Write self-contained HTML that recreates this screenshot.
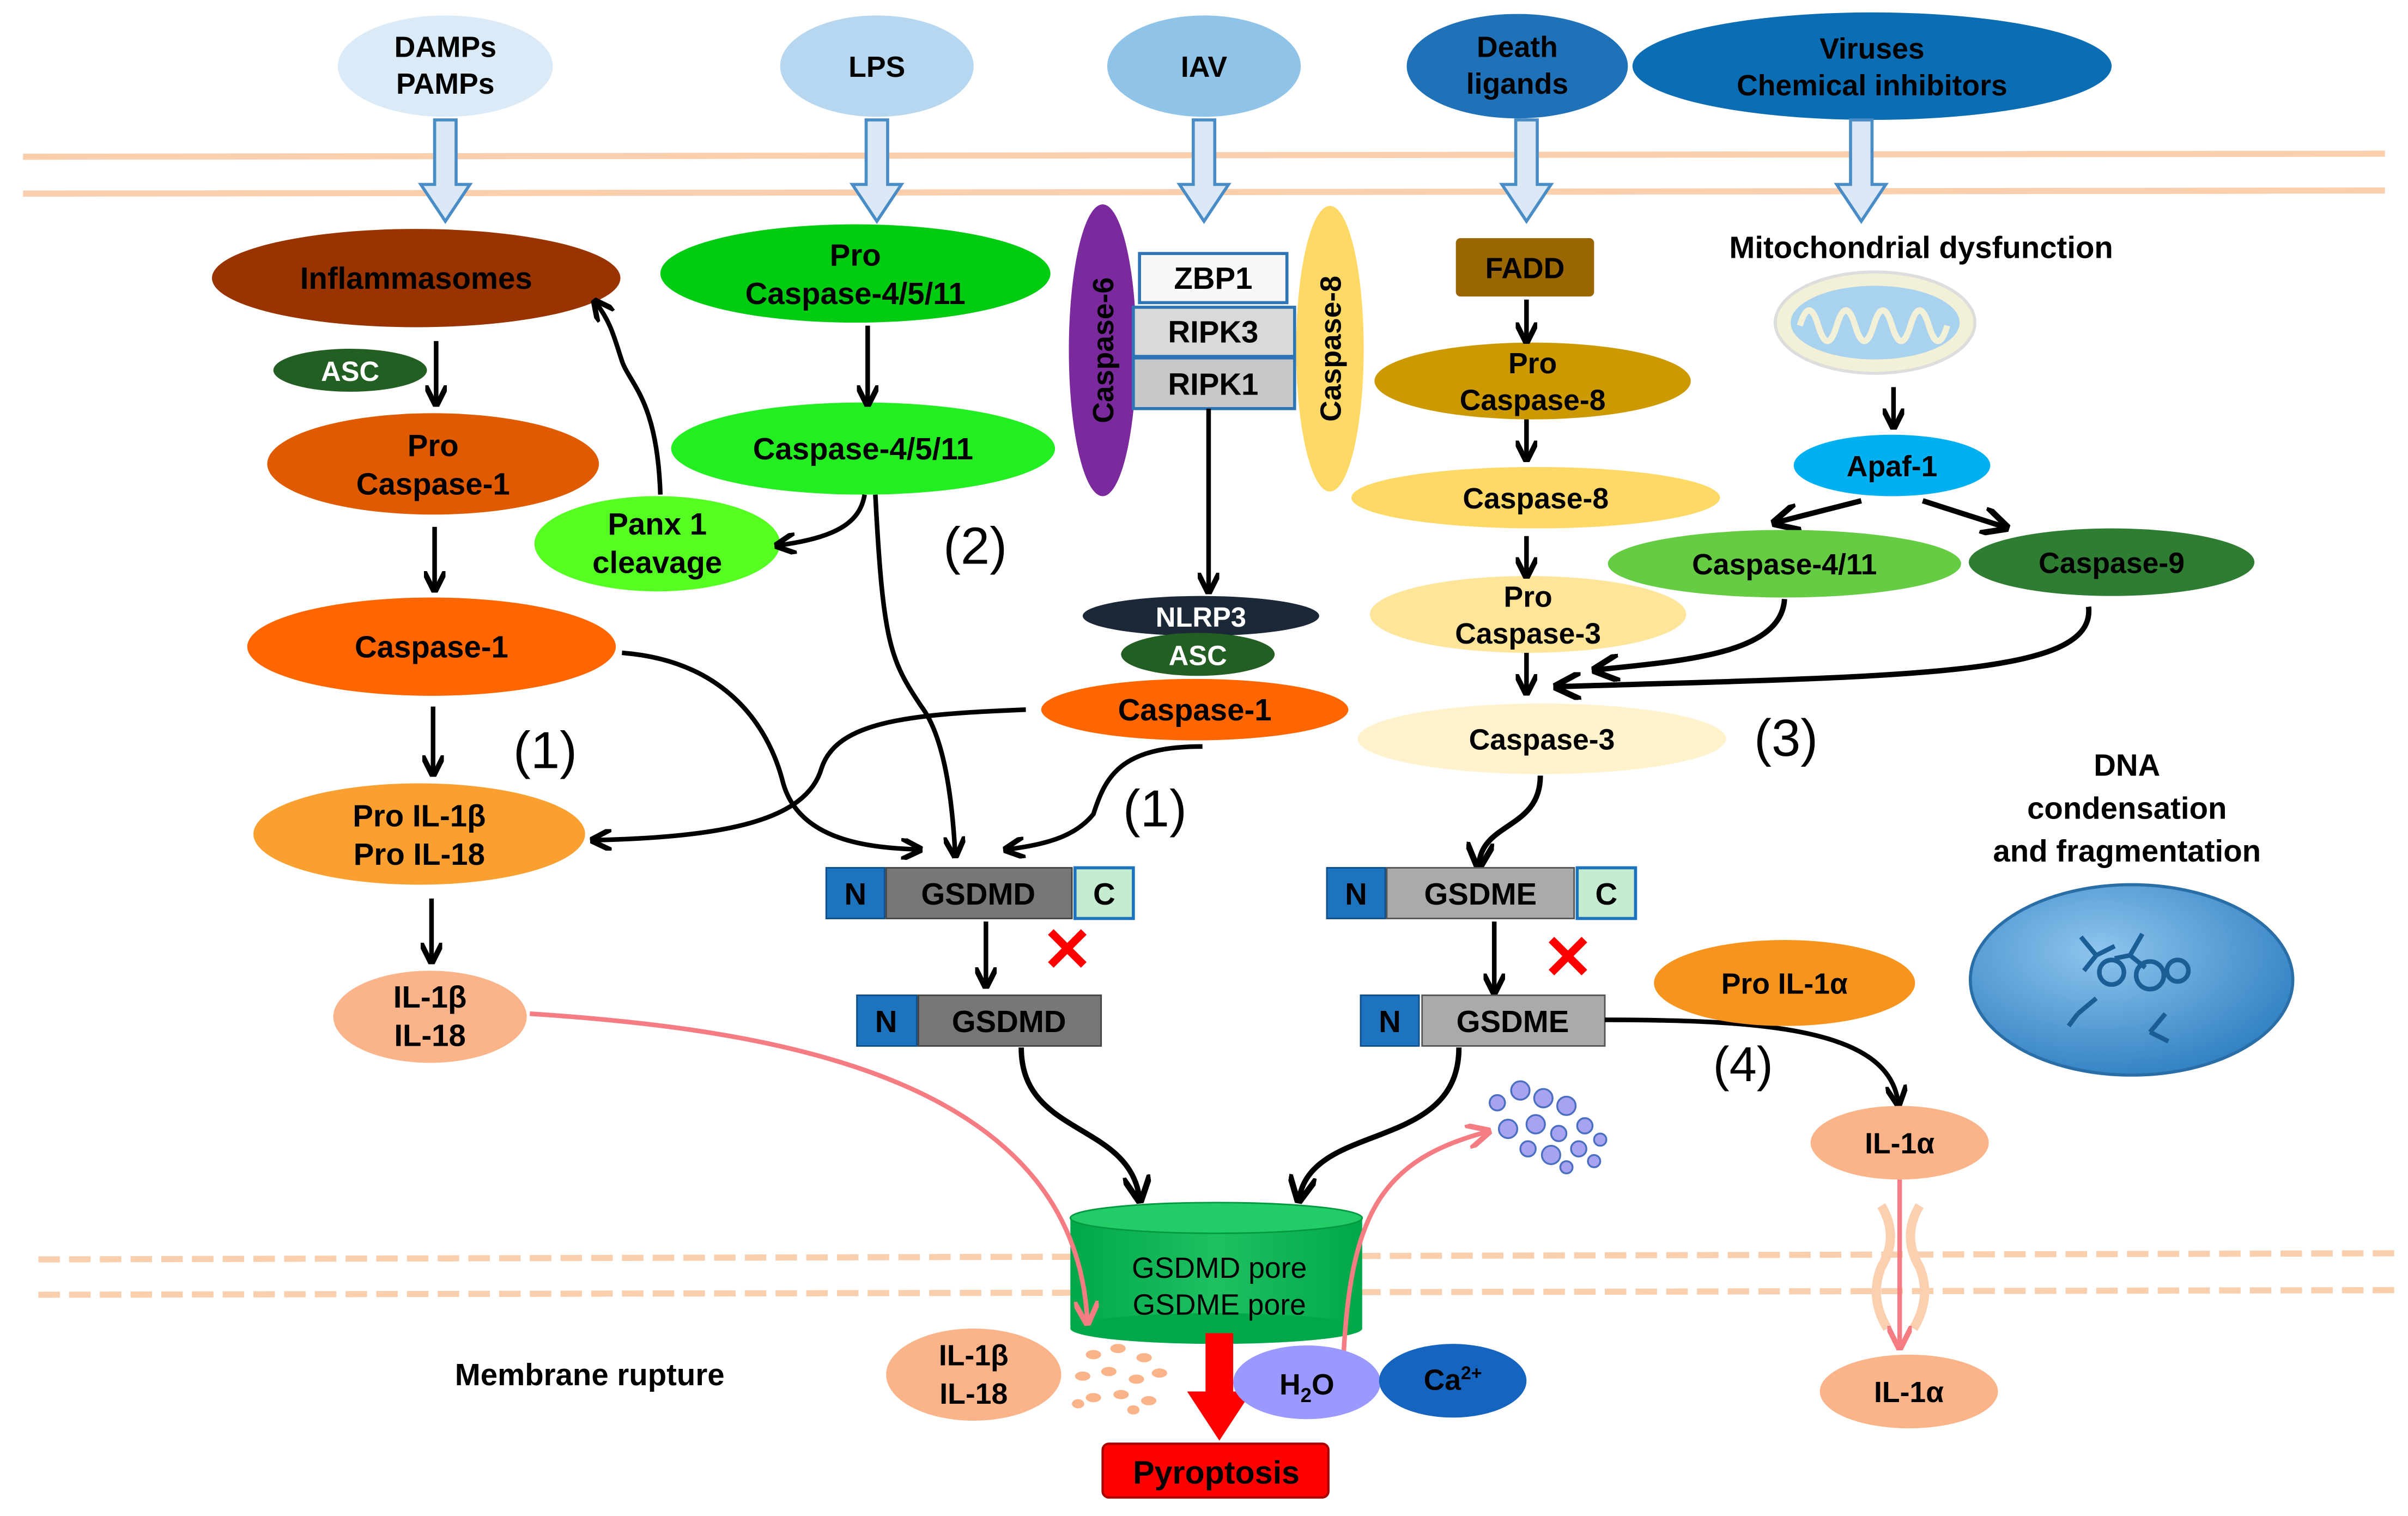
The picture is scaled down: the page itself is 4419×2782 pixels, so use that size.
<!DOCTYPE html>
<html><head><meta charset="utf-8">
<style>
html,body{margin:0;padding:0;background:#fff;}
svg{display:block;}
text{font-family:"Liberation Sans Narrow","Liberation Sans",sans-serif;font-weight:bold;fill:#000;text-anchor:middle;}
.w{font-family:"Liberation Sans",sans-serif;}
.n{font-family:"Liberation Sans",sans-serif;font-weight:normal;}
</style></head>
<body>
<svg width="4419" height="2782" viewBox="0 0 1568 987" xmlns="http://www.w3.org/2000/svg">
<defs>
<marker id="ah" markerWidth="8" markerHeight="8" refX="5" refY="4" orient="auto" markerUnits="userSpaceOnUse" viewBox="0 0 8 8">
</marker>
<marker id="a" viewBox="0 0 10 10" refX="8" refY="5" markerWidth="14" markerHeight="14" markerUnits="userSpaceOnUse" orient="auto"><path d="M0,0 L10,5 L0,10" fill="none" stroke="#000" stroke-width="2.5"/></marker>
<marker id="ab" viewBox="0 0 10 10" refX="8" refY="5" markerWidth="18" markerHeight="18" markerUnits="userSpaceOnUse" orient="auto"><path d="M0,0 L10,5 L0,10" fill="none" stroke="#000" stroke-width="2.2"/></marker>
<marker id="ap" viewBox="0 0 10 10" refX="8" refY="5" markerWidth="16" markerHeight="16" markerUnits="userSpaceOnUse" orient="auto"><path d="M0,0 L10,5 L0,10" fill="none" stroke="#f47c82" stroke-width="2.2"/></marker>
<radialGradient id="nuc" cx="0.4" cy="0.35" r="0.7"><stop offset="0" stop-color="#8ec5ee"/><stop offset="1" stop-color="#2f7fc1"/></radialGradient>
<linearGradient id="pore" x1="0" x2="1"><stop offset="0" stop-color="#00a84a"/><stop offset="0.5" stop-color="#1fc060"/><stop offset="1" stop-color="#00a84a"/></linearGradient>
</defs>

<!-- membranes -->
<line x1="15" y1="102" x2="1553" y2="100" stroke="#f9cfae" stroke-width="4"/>
<line x1="15" y1="126" x2="1553" y2="124" stroke="#f9cfae" stroke-width="4"/>
<line x1="25" y1="820" x2="1560" y2="816" stroke="#f9cfae" stroke-width="4" stroke-dasharray="14 6"/>
<line x1="25" y1="843" x2="1560" y2="840" stroke="#f9cfae" stroke-width="4" stroke-dasharray="14 6"/>

<!-- top ellipses -->
<ellipse cx="290" cy="43" rx="70" ry="33" fill="#dbeaf7"/>
<text x="290" y="37" font-size="19" class="w">DAMPs</text>
<text x="290" y="61" font-size="19" class="w">PAMPs</text>
<ellipse cx="571" cy="43" rx="63" ry="33" fill="#b6d7ef"/>
<text x="571" y="50" font-size="19" class="w">LPS</text>
<ellipse cx="784" cy="43" rx="63" ry="33" fill="#8fc3e8"/>
<text x="784" y="50" font-size="19" class="w">IAV</text>
<ellipse cx="988" cy="43" rx="72" ry="34" fill="#1f72b8"/>
<text x="988" y="37" font-size="19" class="w">Death</text>
<text x="988" y="61" font-size="19" class="w">ligands</text>
<ellipse cx="1219" cy="43" rx="156" ry="35" fill="#0b6db3"/>
<text x="1219" y="38" font-size="19" class="w">Viruses</text>
<text x="1219" y="62" font-size="19" class="w">Chemical inhibitors</text>

<!-- hollow arrows -->
<g fill="#dbe9f7" stroke="#4a8cc6" stroke-width="2">
<path d="M283,78 h14 v42 h9 l-16,24 l-16,-24 h9 z"/>
<path d="M564,78 h14 v42 h9 l-16,24 l-16,-24 h9 z"/>
<path d="M777,78 h14 v42 h9 l-16,24 l-16,-24 h9 z"/>
<path d="M987,78 h14 v42 h9 l-16,24 l-16,-24 h9 z"/>
<path d="M1205,78 h14 v42 h9 l-16,24 l-16,-24 h9 z"/>
</g>

<!-- left column -->
<ellipse cx="271" cy="181" rx="133" ry="32" fill="#993300"/>
<text x="271" y="188" font-size="20">Inflammasomes</text>
<ellipse cx="228" cy="241" rx="50" ry="14" fill="#235e23"/>
<text x="228" y="248" font-size="18" style="fill:#fff">ASC</text>
<ellipse cx="282" cy="302" rx="108" ry="33" fill="#e05a00"/>
<text x="282" y="297" font-size="20">Pro</text>
<text x="282" y="322" font-size="20">Caspase-1</text>
<ellipse cx="281" cy="421" rx="120" ry="32" fill="#ff6600"/>
<text x="281" y="428" font-size="20">Caspase-1</text>
<ellipse cx="273" cy="543" rx="108" ry="33" fill="#f9a030"/>
<text x="273" y="538" font-size="20">Pro IL-1β</text>
<text x="273" y="563" font-size="20">Pro IL-18</text>
<ellipse cx="280" cy="662" rx="63" ry="30" fill="#fbb48a"/>
<text x="280" y="656" font-size="20">IL-1β</text>
<text x="280" y="681" font-size="20">IL-18</text>
<g stroke="#000" stroke-width="3" fill="none" marker-end="url(#a)">
<line x1="284" y1="222" x2="284" y2="262"/>
<line x1="283" y1="343" x2="283" y2="383"/>
<line x1="282" y1="460" x2="282" y2="503"/>
<line x1="281" y1="585" x2="281" y2="625"/>
</g>
<text x="355" y="500" font-size="34" class="n">(1)</text>

<!-- LPS column -->
<ellipse cx="557" cy="178" rx="127" ry="32" fill="#00cc11"/>
<text x="557" y="173" font-size="20">Pro</text>
<text x="557" y="198" font-size="20">Caspase-4/5/11</text>
<ellipse cx="562" cy="292" rx="125" ry="30" fill="#22ee22"/>
<text x="562" y="299" font-size="20">Caspase-4/5/11</text>
<ellipse cx="428" cy="354" rx="80" ry="31" fill="#55ff22"/>
<text x="428" y="348" font-size="20">Panx 1</text>
<text x="428" y="373" font-size="20">cleavage</text>
<g stroke="#000" stroke-width="3" fill="none" marker-end="url(#a)">
<line x1="565" y1="212" x2="565" y2="262"/>
<path d="M563,322 C560,340 545,350 507,355"/>
<path d="M430,322 C428,260 410,250 405,235 C400,220 398,210 388,197"/>
<path d="M570,322 C575,420 580,430 600,460 C615,480 620,520 622,556"/>
<path d="M405,425 C470,430 500,470 510,510 C520,545 560,552 598,553"/>
<path d="M668,462 C590,465 545,470 535,500 C525,535 470,545 387,547"/>
<path d="M783,486 C730,486 720,505 712,530 C700,545 680,550 656,553"/>
</g>
<text x="635" y="367" font-size="34" class="n">(2)</text>
<text x="752" y="538" font-size="34" class="n">(1)</text>

<!-- IAV column -->
<ellipse cx="718" cy="228" rx="22" ry="95" fill="#7b2a9e"/>
<text x="0" y="0" font-size="19" class="w" transform="translate(725,228) rotate(-90)">Caspase-6</text>
<ellipse cx="866" cy="227" rx="22" ry="93" fill="#ffd966"/>
<text x="0" y="0" font-size="19" class="w" transform="translate(873,227) rotate(-90)">Caspase-8</text>
<rect x="742" y="165" width="96" height="32" fill="#f8f8f8" stroke="#2e75b6" stroke-width="2"/>
<text x="790" y="188" font-size="20" class="w">ZBP1</text>
<rect x="738" y="200" width="105" height="32" fill="#d9d9d9" stroke="#2e75b6" stroke-width="2"/>
<text x="790" y="223" font-size="20" class="w">RIPK3</text>
<rect x="738" y="233" width="105" height="33" fill="#c8c8c8" stroke="#2e75b6" stroke-width="2"/>
<text x="790" y="257" font-size="20" class="w">RIPK1</text>
<line x1="787" y1="266" x2="787" y2="384" stroke="#000" stroke-width="3" marker-end="url(#a)"/>
<ellipse cx="782" cy="401" rx="77" ry="13" fill="#1b2838"/>
<text x="782" y="408" font-size="18" style="fill:#fff">NLRP3</text>
<ellipse cx="780" cy="426" rx="50" ry="14" fill="#235e23"/>
<text x="780" y="433" font-size="18" style="fill:#fff">ASC</text>
<ellipse cx="778" cy="462" rx="100" ry="20" fill="#ff6600"/>
<text x="778" y="469" font-size="20">Caspase-1</text>

<!-- GSDMD -->
<rect x="538" y="565" width="38" height="33" fill="#1e73be" stroke="#0d4f8a"/>
<text x="557" y="589" font-size="20" class="w">N</text>
<rect x="577" y="565" width="121" height="33" fill="#777" stroke="#444"/>
<text x="637" y="589" font-size="20" class="w">GSDMD</text>
<rect x="700" y="565" width="38" height="33" fill="#c6ecd0" stroke="#1e73be" stroke-width="2"/>
<text x="719" y="589" font-size="20" class="w">C</text>
<text x="695" y="632" font-size="40" class="w" style="fill:#ff0000">✕</text>
<line x1="642" y1="600" x2="642" y2="641" stroke="#000" stroke-width="3" marker-end="url(#a)"/>
<rect x="558" y="648" width="39" height="33" fill="#1e73be" stroke="#0d4f8a"/>
<text x="577" y="672" font-size="20" class="w">N</text>
<rect x="598" y="648" width="119" height="33" fill="#777" stroke="#444"/>
<text x="657" y="672" font-size="20" class="w">GSDMD</text>
<path d="M665,682 C665,740 735,730 742,780" stroke="#000" stroke-width="3.5" fill="none" marker-end="url(#ab)"/>

<!-- Death ligands column -->
<rect x="948" y="155" width="90" height="38" rx="3" fill="#996600"/>
<text x="993" y="181" font-size="19" class="w">FADD</text>
<ellipse cx="998" cy="248" rx="103" ry="25" fill="#cc9900"/>
<text x="998" y="243" font-size="19" class="w">Pro</text>
<text x="998" y="267" font-size="19" class="w">Caspase-8</text>
<ellipse cx="1000" cy="324" rx="120" ry="20" fill="#ffd966"/>
<text x="1000" y="331" font-size="19" class="w">Caspase-8</text>
<ellipse cx="995" cy="400" rx="103" ry="25" fill="#ffe599"/>
<text x="995" y="395" font-size="19" class="w">Pro</text>
<text x="995" y="419" font-size="19" class="w">Caspase-3</text>
<ellipse cx="1004" cy="481" rx="120" ry="23" fill="#fff2cc"/>
<text x="1004" y="488" font-size="19" class="w">Caspase-3</text>
<g stroke="#000" stroke-width="3" fill="none" marker-end="url(#a)">
<line x1="994" y1="195" x2="994" y2="221"/>
<line x1="994" y1="273" x2="994" y2="298"/>
<line x1="994" y1="349" x2="994" y2="374"/>
<line x1="994" y1="425" x2="994" y2="450"/>
</g>
<text x="1163" y="492" font-size="34" class="n">(3)</text>
<path d="M1003,505 C1003,540 965,535 963,563" stroke="#000" stroke-width="3.5" fill="none" marker-end="url(#ab)"/>

<!-- GSDME -->
<rect x="864" y="565" width="38" height="33" fill="#1e73be" stroke="#0d4f8a"/>
<text x="883" y="589" font-size="20" class="w">N</text>
<rect x="903" y="565" width="122" height="33" fill="#aaa" stroke="#555"/>
<text x="964" y="589" font-size="20" class="w">GSDME</text>
<rect x="1027" y="565" width="38" height="33" fill="#c6ecd0" stroke="#1e73be" stroke-width="2"/>
<text x="1046" y="589" font-size="20" class="w">C</text>
<text x="1021" y="637" font-size="40" class="w" style="fill:#ff0000">✕</text>
<line x1="973" y1="600" x2="973" y2="645" stroke="#000" stroke-width="3" marker-end="url(#a)"/>
<rect x="886" y="648" width="38" height="33" fill="#1e73be" stroke="#0d4f8a"/>
<text x="905" y="672" font-size="20" class="w">N</text>
<rect x="926" y="648" width="119" height="33" fill="#aaa" stroke="#555"/>
<text x="985" y="672" font-size="20" class="w">GSDME</text>
<path d="M950,682 C950,750 855,730 846,780" stroke="#000" stroke-width="3.5" fill="none" marker-end="url(#ab)"/>
<path d="M1045,664 C1150,664 1230,670 1236,718" stroke="#000" stroke-width="3" fill="none" marker-end="url(#a)"/>
<text x="1135" y="704" font-size="32" class="n">(4)</text>

<!-- mitochondria branch -->
<text x="1251" y="168" font-size="20" class="w">Mitochondrial dysfunction</text>
<ellipse cx="1221" cy="210" rx="65" ry="33" fill="#f3f0d8" stroke="#ddd" stroke-width="2"/>
<ellipse cx="1221" cy="210" rx="55" ry="24" fill="#a9d2ef"/>
<path d="M1172,212 q6,-20 12,0 q6,20 12,0 q6,-20 12,0 q6,20 12,0 q6,-20 12,0 q6,20 12,0 q6,-20 12,0 q6,20 12,0" stroke="#f3f0d8" stroke-width="4" fill="none"/>
<line x1="1233" y1="252" x2="1233" y2="277" stroke="#000" stroke-width="3" marker-end="url(#a)"/>
<ellipse cx="1232" cy="303" rx="64" ry="20" fill="#00b0f0"/>
<text x="1232" y="310" font-size="19" class="w">Apaf-1</text>
<g stroke="#000" stroke-width="3.5" fill="none" marker-end="url(#ab)">
<line x1="1212" y1="326" x2="1157" y2="340"/>
<line x1="1252" y1="326" x2="1305" y2="343"/>
<path d="M1162,390 C1160,425 1100,430 1040,436"/>
<path d="M1360,395 C1365,440 1250,440 1015,447"/>
</g>
<ellipse cx="1162" cy="367" rx="115" ry="22" fill="#66cc44"/>
<text x="1162" y="374" font-size="19" class="w">Caspase-4/11</text>
<ellipse cx="1375" cy="366" rx="93" ry="22" fill="#2e7d32"/>
<text x="1375" y="373" font-size="19" class="w">Caspase-9</text>

<!-- DNA -->
<text x="1385" y="505" font-size="20" class="w">DNA</text>
<text x="1385" y="533" font-size="20" class="w">condensation</text>
<text x="1385" y="561" font-size="20" class="w">and fragmentation</text>
<ellipse cx="1388" cy="638" rx="105" ry="62" fill="url(#nuc)" stroke="#2a6ea8" stroke-width="2"/>
<g stroke="#1b5e96" stroke-width="3" fill="none">
<path d="M1355,610 l10,12 l-8,10 M1365,622 l12,-6"/>
<path d="M1395,608 l-8,14 l10,8 M1387,622 l-10,2"/>
<path d="M1410,660 l-10,12 M1400,672 l12,6"/>
<path d="M1365,650 l-12,10 M1353,660 l-6,8"/>
<circle cx="1375" cy="633" r="8"/><circle cx="1400" cy="635" r="9"/><circle cx="1418" cy="632" r="7"/>
</g>

<!-- IL-1a -->
<ellipse cx="1162" cy="640" rx="85" ry="28" fill="#f7941d"/>
<text x="1162" y="647" font-size="19" class="w">Pro IL-1α</text>
<ellipse cx="1237" cy="744" rx="58" ry="24" fill="#fbb48a"/>
<text x="1237" y="751" font-size="19" class="w">IL-1α</text>
<path d="M1225,785 q12,20 0,40 q-8,20 4,40 M1250,785 q-12,20 0,40 q8,20 -4,40" stroke="#fbd0b0" stroke-width="6" fill="none"/>
<line x1="1237" y1="768" x2="1237" y2="876" stroke="#f47c82" stroke-width="3" marker-end="url(#ap)"/>
<ellipse cx="1243" cy="906" rx="58" ry="24" fill="#fbb48a"/>
<text x="1243" y="913" font-size="19" class="w">IL-1α</text>

<!-- pore -->
<rect x="697" y="793" width="190" height="72" fill="url(#pore)"/>
<ellipse cx="792" cy="865" rx="95" ry="10" fill="#00a84a"/>
<ellipse cx="792" cy="793" rx="95" ry="10" fill="#22cc66" stroke="#009940"/>
<text x="794" y="832" font-size="19" class="n" style="font-family:'Liberation Sans',sans-serif">GSDMD pore</text>
<text x="794" y="856" font-size="19" class="n" style="font-family:'Liberation Sans',sans-serif">GSDME pore</text>

<path d="M345,660 C500,670 700,700 708,860" stroke="#f47c82" stroke-width="3" fill="none" marker-end="url(#ap)"/>
<path d="M875,880 C880,790 900,755 968,737" stroke="#f47c82" stroke-width="3" fill="none" marker-end="url(#ap)"/>

<ellipse cx="634" cy="895" rx="57" ry="30" fill="#fbb48a"/>
<text x="634" y="889" font-size="19" class="w">IL-1β</text>
<text x="634" y="914" font-size="19" class="w">IL-18</text>
<g fill="#fbb48a">
<ellipse cx="712" cy="882" rx="5" ry="3"/><ellipse cx="728" cy="878" rx="5" ry="3"/><ellipse cx="745" cy="884" rx="5" ry="3"/>
<ellipse cx="705" cy="896" rx="5" ry="3"/><ellipse cx="722" cy="893" rx="5" ry="3"/><ellipse cx="740" cy="898" rx="5" ry="3"/><ellipse cx="755" cy="894" rx="5" ry="3"/>
<ellipse cx="712" cy="910" rx="5" ry="3"/><ellipse cx="730" cy="908" rx="5" ry="3"/><ellipse cx="748" cy="912" rx="5" ry="3"/>
<ellipse cx="702" cy="914" rx="4" ry="3"/><ellipse cx="738" cy="918" rx="4" ry="3"/>
</g>
<g fill="#a7a3f0" stroke="#4a6fc0" stroke-width="1.2">
<circle cx="975" cy="718" r="5"/><circle cx="990" cy="710" r="6"/><circle cx="1005" cy="715" r="6"/><circle cx="1020" cy="720" r="6"/>
<circle cx="982" cy="735" r="6"/><circle cx="1000" cy="732" r="6"/><circle cx="1015" cy="738" r="5"/><circle cx="1032" cy="733" r="5"/>
<circle cx="995" cy="748" r="5"/><circle cx="1010" cy="752" r="6"/><circle cx="1028" cy="748" r="5"/><circle cx="1042" cy="742" r="4"/>
<circle cx="1020" cy="760" r="4"/><circle cx="1038" cy="756" r="4"/>
</g>

<!-- pyroptosis -->
<rect x="785" y="868" width="18" height="40" fill="#ff0000"/>
<path d="M773,906 L815,906 L794,938 Z" fill="#ff0000"/>
<rect x="718" y="940" width="147" height="35" rx="4" fill="#ff0000" stroke="#a00" stroke-width="1.5"/>
<text x="792" y="966" font-size="21" class="w">Pyroptosis</text>
<ellipse cx="851" cy="900" rx="48" ry="24" fill="#9999ff"/>
<text x="851" y="908" font-size="19" class="w">H<tspan font-size="13" dy="5">2</tspan><tspan dy="-5">O</tspan></text>
<ellipse cx="946" cy="899" rx="48" ry="24" fill="#1565c0"/>
<text x="946" y="905" font-size="19" class="w">Ca<tspan font-size="12" dy="-7">2+</tspan></text>
<text x="384" y="902" font-size="20" class="w">Membrane rupture</text>
</svg>
</body></html>
